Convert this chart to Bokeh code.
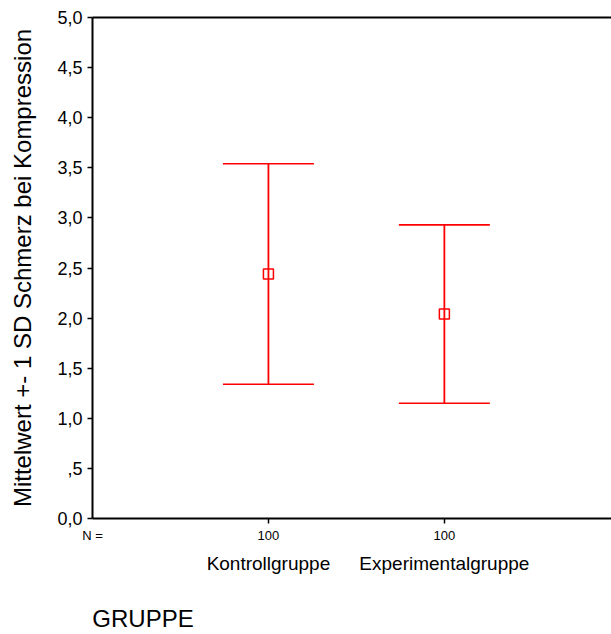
from bokeh.plotting import figure
from bokeh.models import (ColumnDataSource, Whisker, TeeHead, FixedTicker,
                          LinearAxis, Range1d)
from bokeh.embed import file_html
from bokeh.resources import INLINE

# ---- data ----
groups = ["Kontrollgruppe", "Experimentalgruppe"]
n_values = [100, 100]
means = [2.44, 2.04]
sds = [1.10, 0.89]
y_ticks = [0.0, 0.5, 1.0, 1.5, 2.0, 2.5, 3.0, 3.5, 4.0, 4.5, 5.0]
y_tick_labels = ["0,0", ",5", "1,0", "1,5", "2,0", "2,5", "3,0", "3,5", "4,0", "4,5", "5,0"]
y_title = "Mittelwert +- 1 SD Schmerz bei Kompression"
x_title = "GRUPPE"
n_prefix = "N ="

FONT = "Liberation Sans"
RED = "#ff0000"

x_pos = list(range(1, len(groups) + 1))
lower = [m - s for m, s in zip(means, sds)]
upper = [m + s for m, s in zip(means, sds)]
src = ColumnDataSource(dict(x=x_pos, mean=means, lower=lower, upper=upper))

p = figure(width=611, height=634, x_range=Range1d(0, 2.95), y_range=Range1d(0, 5),
           output_backend="svg", toolbar_location=None,
           x_axis_location=None, y_axis_location="left",
           min_border_left=92, min_border_right=0, min_border_top=17,
           min_border_bottom=116)
p.outline_line_color = None
p.background_fill_color = "white"
p.border_fill_color = "white"
for g in p.grid:
    g.grid_line_color = None

# y axis
ya = p.yaxis[0]
ya.ticker = FixedTicker(ticks=y_ticks)
ya.major_label_overrides = {t: l for t, l in zip(y_ticks, y_tick_labels)}
ya.major_label_text_font = FONT
ya.major_label_text_font_size = "18px"
ya.major_label_text_color = "black"
ya.major_label_standoff = 5
ya.major_tick_out = 5
ya.major_tick_in = 0
ya.major_tick_line_width = 1.5
ya.major_tick_line_color = "black"
ya.minor_tick_line_color = None
ya.axis_line_width = 2
ya.axis_line_color = "black"
ya.axis_label = y_title
ya.axis_label_text_font = FONT
ya.axis_label_text_font_size = "24px"
ya.axis_label_text_font_style = "normal"
ya.axis_label_text_color = "black"
ya.axis_label_standoff = 18


def plain_axis(**kw):
    base = dict(major_tick_in=0, minor_tick_in=0, minor_tick_out=0,
                minor_tick_line_color=None, major_label_text_font=FONT,
                major_label_text_color="black")
    base.update(kw)
    return LinearAxis(**base)


# top line (no ticks, no labels)
top = plain_axis(ticker=FixedTicker(ticks=[]), axis_line_width=2, axis_line_color="black",
                 major_tick_out=0, major_label_standoff=0)
p.add_layout(top, "above")

# bottom axis: line, tick marks at the groups (minor ticks), N row as labels
n_ticks = [0] + x_pos
n_labels = [n_prefix] + [str(n) for n in n_values]
xa = LinearAxis(ticker=FixedTicker(ticks=n_ticks, minor_ticks=x_pos),
                major_label_overrides={t: l for t, l in zip(n_ticks, n_labels)},
                major_tick_out=0, major_tick_in=0, major_tick_line_color=None,
                minor_tick_out=5, minor_tick_in=0, minor_tick_line_color="black",
                minor_tick_line_width=1.5,
                axis_line_width=2, axis_line_color="black",
                major_label_text_font=FONT, major_label_text_color="black",
                major_label_text_font_size="13px", major_label_standoff=4)
p.add_layout(xa, "below")

# category row
xb = plain_axis(ticker=FixedTicker(ticks=x_pos),
                major_label_overrides={x: g for x, g in zip(x_pos, groups)},
                major_tick_out=0, major_tick_line_color=None, axis_line_color=None,
                major_label_text_font_size="19px", major_label_standoff=7)
p.add_layout(xb, "below")

# axis title row, left-aligned under the frame's left edge
title_pos = [0.287]
xc = plain_axis(ticker=FixedTicker(ticks=title_pos),
                major_label_overrides={title_pos[0]: x_title},
                major_tick_out=0, major_tick_line_color=None, axis_line_color=None,
                major_label_text_font_size="24px", major_label_standoff=28)
p.add_layout(xc, "below")

# error bars
w = Whisker(source=src, base="x", upper="upper", lower="lower",
            line_color=RED, line_width=1.8,
            upper_head=TeeHead(size=91, line_color=RED, line_width=1.6),
            lower_head=TeeHead(size=91, line_color=RED, line_width=1.6))
p.add_layout(w)
p.scatter("x", "mean", source=src, marker="square", size=10,
          fill_color=None, line_color=RED, line_width=1.5)

open("out.html", "w").write(file_html(p, INLINE))
